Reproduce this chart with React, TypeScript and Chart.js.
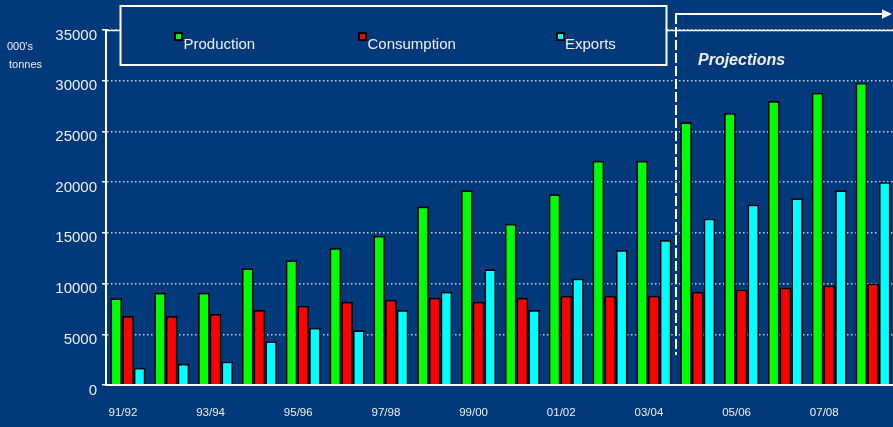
import React, { useEffect, useRef } from "react";
import { Chart, registerables } from "chart.js";

Chart.register(...registerables);

const categories = ["91/92", "92/93", "93/94", "94/95", "95/96", "96/97", "97/98", "98/99", "99/00", "00/01", "01/02", "02/03", "03/04", "04/05", "05/06", "06/07", "07/08", "08/09"];
const production = [8550, 9100, 9100, 11500, 12300, 13500, 14700, 17600, 19200, 15900, 18800, 22100, 22100, 25900, 26800, 28000, 28800, 29800];
const consumption = [6800, 6800, 7000, 7400, 7800, 8200, 8400, 8600, 8200, 8600, 8800, 8800, 8800, 9200, 9400, 9600, 9800, 10000];
const exportsData = [1700, 2100, 2300, 4300, 5650, 5400, 7400, 9200, 11400, 7400, 10500, 13300, 14300, 16400, 17800, 18400, 19200, 20000];
const seriesNames = ["Production", "Consumption", "Exports"];
const seriesColors = ["#00ff00", "#ff0000", "#00ffff"];
const yTicks = { min: 0, max: 35000, step: 5000 };
const projectionStartIndex = 13;
const projectionLabel = "Projections";
const unitLines = ["000's", "tonnes"];

const BG = "#01397a";
const FONT = "'Liberation Sans', Arial, sans-serif";
const TEXT = "#f0f0f0";

const overlayPlugin = {
  id: "overlay",
  afterDraw(chart: any) {
    const { ctx, chartArea, scales } = chart;
    const x = scales.x;
    const y = scales.y;
    ctx.save();
    // solid top line at max
    const yTop = Math.round(y.getPixelForValue(yTicks.max)) + 0.5;
    ctx.strokeStyle = "#ffffff";
    ctx.lineWidth = 1.5;
    ctx.beginPath();
    ctx.moveTo(chartArea.left, yTop);
    ctx.lineTo(chart.width, yTop);
    ctx.stroke();

    // legend box
    ctx.fillStyle = BG;
    ctx.fillRect(120, 6, 547, 59);
    ctx.strokeStyle = "#ffffff";
    ctx.lineWidth = 2;
    ctx.strokeRect(120.5, 6, 546, 59);

    const legendX = [174, 358, 556];
    const textX = [183.5, 367.5, 565];
    ctx.font = `15px ${FONT}`;
    ctx.textBaseline = "alphabetic";
    ctx.textAlign = "left";
    for (let i = 0; i < 3; i++) {
      ctx.fillStyle = "#000000";
      ctx.fillRect(legendX[i], 32, 9, 9);
      ctx.fillStyle = seriesColors[i];
      ctx.fillRect(legendX[i] + 2, 34, 5, 5);
      ctx.fillStyle = TEXT;
      ctx.fillText(seriesNames[i], textX[i], 48.5);
    }

    // projection divider
    const bx = Math.round((x.getPixelForValue(projectionStartIndex - 1) + x.getPixelForValue(projectionStartIndex)) / 2);
    ctx.strokeStyle = "#ffffff";
    ctx.lineWidth = 2;
    ctx.setLineDash([10, 3]);
    ctx.beginPath();
    ctx.moveTo(bx, 14);
    ctx.lineTo(bx, 355);
    ctx.stroke();
    ctx.setLineDash([]);
    ctx.beginPath();
    ctx.moveTo(bx - 1, 14);
    ctx.lineTo(883, 14);
    ctx.stroke();
    ctx.fillStyle = "#ffffff";
    ctx.beginPath();
    ctx.moveTo(882, 9.3);
    ctx.lineTo(892, 14);
    ctx.lineTo(882, 18.7);
    ctx.closePath();
    ctx.fill();

    ctx.font = `italic bold 16px ${FONT}`;
    ctx.fillStyle = TEXT;
    ctx.fillText(projectionLabel, 698, 65);

    ctx.font = `11px ${FONT}`;
    ctx.fillText(unitLines[0], 7, 50);
    ctx.fillText(unitLines[1], 9, 67.5);
    ctx.restore();
  },
};

export default function App() {
  const ref = useRef<HTMLCanvasElement | null>(null);
  useEffect(() => {
    document.body.style.margin = "0";
    const canvas = ref.current!;
    const chart = new Chart(canvas, {
      type: "bar",
      data: {
        labels: categories,
        datasets: [production, consumption, exportsData].map((d, i) => ({
          label: seriesNames[i],
          data: d,
          backgroundColor: seriesColors[i],
          borderColor: "#000000",
          borderWidth: 1.7,
          borderSkipped: "start",
          barPercentage: 1,
          categoryPercentage: 0.8,
        })),
      },
      options: {
        responsive: false,
        animation: false,
        events: [],
        layout: { padding: { top: 30, right: 5, bottom: 0, left: 0 } },
        plugins: { legend: { display: false }, tooltip: { enabled: false }, title: { display: false } },
        scales: {
          x: {
            type: "category",
            offset: true,
            grid: { display: false, drawTicks: false, tickLength: 0 },
            border: { display: true, color: "#ffffff", width: 2, z: 1 },
            ticks: {
              autoSkip: false,
              maxRotation: 0,
              padding: 21,
              labelOffset: -5,
              color: TEXT,
              font: { family: FONT, size: 11.5 },
              callback: (_v: any, i: number) => (i % 2 === 0 ? categories[i] : ""),
            },
            afterFit: (s: any) => {
              s.height = 42;
            },
          },
          y: {
            min: yTicks.min,
            max: yTicks.max,
            ticks: {
              stepSize: yTicks.step,
              padding: 5,
              labelOffset: 5.5,
              color: TEXT,
              font: { family: FONT, size: 15 },
              callback: (v: any) => String(v),
            },
            grid: {
              color: "rgba(215,222,235,0.9)",
              lineWidth: 1.5,
              drawTicks: true,
              tickLength: 4,
              tickColor: "#ffffff",
              tickWidth: 1.5,
            },
            border: { display: true, color: "#ffffff", width: 2, dash: [1.5, 2.5] },
            afterFit: (s: any) => {
              s.width = 106;
            },
          },
        },
      },
      plugins: [overlayPlugin],
    } as any);
    return () => chart.destroy();
  }, []);
  return (
    <div style={{ position: "relative", width: 893, height: 427, overflow: "hidden", background: BG }}>
      <canvas ref={ref} width={900} height={427} style={{ display: "block", width: 900, height: 427 }} />
    </div>
  );
}
